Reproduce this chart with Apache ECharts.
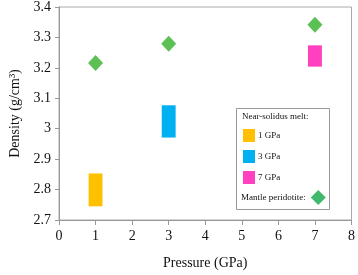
<!DOCTYPE html>
<html>
<head>
<meta charset="utf-8">
<script src="https://cdn.jsdelivr.net/npm/echarts@6/dist/echarts.min.js"></script>
<style>
  html, body { margin: 0; padding: 0; background: #fff; }
  #main { width: 358px; height: 275px; }
</style>
</head>
<body>
<div id="main"></div>
<script>
// melt density ranges: [pressure, low, high]
const meltNames = ['1 GPa', '3 GPa', '7 GPa'];
const meltColors = ['#ffc000', '#00b0f0', '#ff40c0'];
const meltRanges = [
  [1, 2.745, 2.853],
  [3, 2.971, 3.077],
  [7, 3.204, 3.274]
];
// mantle peridotite density
const peridotite = [
  [1, 3.216],
  [3, 3.279],
  [7, 3.342]
];

const serif = '"Liberation Serif", "DejaVu Serif", serif';
const halfW = 0.19;

var chart = echarts.init(document.getElementById('main'));

function rangeBox(params, api) {
  var lo = api.coord([api.value(0) - halfW, api.value(1)]);
  var hi = api.coord([api.value(0) + halfW, api.value(2)]);
  return {
    type: 'rect',
    shape: { x: lo[0], y: hi[1], width: hi[0] - lo[0], height: lo[1] - hi[1] },
    style: { fill: api.visual('color') }
  };
}

var series = meltNames.map(function (name, i) {
  return {
    name: name,
    type: 'custom',
    color: meltColors[i],
    renderItem: rangeBox,
    encode: { x: 0, y: [1, 2] },
    data: [meltRanges[i]]
  };
});
series.push({
  name: 'Mantle peridotite:',
  type: 'scatter',
  symbol: 'diamond',
  symbolSize: [15, 16],
  color: '#33b02a',
  data: peridotite
});

chart.setOption({
  animation: false,
  textStyle: { fontFamily: serif },
  grid: { left: 53, right: 5, top: 6, bottom: 52, show: true, borderColor: '#aaa', borderWidth: 1 },
  xAxis: {
    type: 'value', min: 0, max: 8, interval: 1,
    name: 'Pressure (GPa)', nameLocation: 'middle', nameGap: 36,
    nameTextStyle: { fontSize: 14, color: '#111', fontFamily: serif },
    axisLine: { show: true, lineStyle: { color: '#999' } },
    axisTick: { show: true, length: 5, lineStyle: { color: '#999' } },
    axisLabel: { fontSize: 14, color: '#111', margin: 9, fontFamily: serif },
    splitLine: { show: false }
  },
  yAxis: {
    type: 'value', min: 2.7, max: 3.4, interval: 0.1,
    name: 'Density (g/cm³)', nameLocation: 'middle', nameGap: 37,
    nameTextStyle: { fontSize: 14, color: '#111', fontFamily: serif },
    axisLine: { show: true, lineStyle: { color: '#999' } },
    axisTick: { show: true, length: 4, lineStyle: { color: '#999' } },
    axisLabel: {
      fontSize: 14, color: '#111', margin: 8, fontFamily: serif,
      formatter: function (v) { return +v.toFixed(1) + ''; }
    },
    splitLine: { show: false }
  },
  legend: [
    {
      data: meltNames,
      orient: 'vertical',
      left: 243, top: 129, padding: 0,
      itemWidth: 12, itemHeight: 13, itemGap: 8,
      icon: 'rect',
      textStyle: { fontSize: 9, color: '#111', fontFamily: serif, padding: [0, 0, 0, -2] },
      selectedMode: false
    },
    {
      data: ['Mantle peridotite:'],
      left: 241, top: 190, padding: 0,
      align: 'right',
      itemWidth: 15, itemHeight: 15,
      icon: 'diamond',
      itemStyle: { color: '#10a848' },
      textStyle: { fontSize: 9, color: '#111', fontFamily: serif },
      selectedMode: false
    }
  ],
  graphic: [
    {
      type: 'rect', left: 236, top: 108, z: 0,
      shape: { width: 93, height: 101 },
      style: { fill: '#fff', stroke: '#999', lineWidth: 1 }
    },
    {
      type: 'text', left: 242, top: 112, z: 1,
      style: { text: 'Near-solidus melt:', fontSize: 9, fill: '#111', fontFamily: serif }
    }
  ],
  series: series
});
</script>
</body>
</html>
